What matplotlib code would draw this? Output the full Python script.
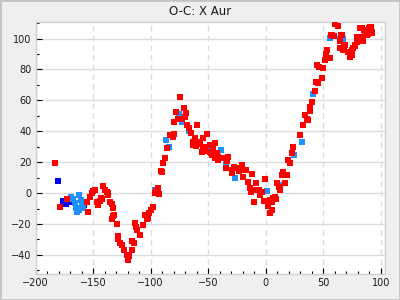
import matplotlib
matplotlib.use("Agg")
import matplotlib.pyplot as plt
from matplotlib.ticker import MultipleLocator
from matplotlib.patches import Rectangle

title = "O-C: X Aur"

red_x = [-183.2, -178.9, -172.5, -155.7, -154.3, -152.8, -151.3, -149.9, -148.4, -147.0, -145.6, -144.0,
         -143.0, -142.7, -141.2, -140.0, -139.7, -138.3, -137.4, -137.0, -135.4, -134.0, -133.0, -132.5,
         -131.6, -134.0, -129.6, -128.2, -128.8, -126.7, -125.2, -123.0, -120.9, -120.0, -119.0, -116.0,
         -114.3, -116.0, -113.7, -112.5, -111.5, -109.3, -106.4, -105.0, -103.5, -102.0, -101.6, -99.7,
         -97.7, -96.3, -95.0, -93.4, -92.8, -91.0, -94.8, -90.4, -89.0, -87.6, -85.6, -82.9, -80.6, -79.7,
         -79.7, -78.0, -76.0, -74.5, -73.0, -71.0, -69.3, -70.0, -68.2, -66.4, -65.2, -59.5, -63.0, -61.6,
         -63.0, -61.0, -58.6, -57.0, -54.3, -50.8, -55.6, -54.0, -52.5, -48.4, -48.0, -44.0, -42.6, -46.0,
         -47.0, -44.0, -54.3, -52.5, -48.4, -44.0, -41.2, -41.2, -36.9, -32.5, -33.9, -34.5, -29.6, -29.6,
         -28.0, -25.2, -23.0, -20.9, -20.0, -17.5, -19.5, -15.2, -12.2, -13.7, -12.5, -9.3, -8.4, -5.8,
         -3.5, -4.9, -2.0, -10.2, -0.5, 3.7, 2.3, 5.0, 6.0, 3.7, 5.0, 9.6, 11.0, 12.5, 5.2, 7.0, 9.0,
         8.0, 11.0, 10.1, 12.4, 13.9, 15.3, 15.3, 16.8, 18.3, 19.6, 21.1, 22.6, 24.0, 29.8, 32.7, 34.2,
         35.5, 36.5, 38.5, 38.0, 40.0, 42.9, 43.7, 45.5, 48.7, 46.6, 44.8, 49.6, 51.6, 53.0, 52.5, 55.3,
         53.0, 57.4, 59.0, 60.3, 62.3, 56.5, 58.4, 66.1, 64.0, 65.2, 64.6, 67.0, 68.1, 69.0, 71.0, 73.3,
         73.3, 74.8, 75.0, 75.6, 77.6, 77.6, 79.1, 79.6, 81.4, 83.5, 85.0, 86.4, 89.2, 90.5, 92.2, 83.5,
         86.0, 88.0, 84.4, 84.8, 91.2, 92.2, 89.0]
red_y = [19.4, -9.0, -4.0, -5.5, -12.0, -2.3, 0.0, 1.6, 2.0, -5.5, -7.6, -5.0,
         -3.0, -3.8, 4.7, 2.0, 2.0, 1.0, 0.0, -1.0, -5.5, -7.0, -9.8, -14.8,
         -14.0, -17.0, -20.0, -28.0, -29.5, -32.0, -33.5, -36.8, -40.0, -43.2, -41.0, -36.8,
         -32.4, -31.0, -19.5, -22.0, -24.0, -27.0, -20.6, -14.0, -17.0, -16.0, -12.7, -10.9,
         -9.0, 0.0, 1.5, 3.2, -0.5, 14.0, 0.0, 13.9, 19.4, 22.6, 29.0, 37.7, 36.6, 38.1,
         46.3, 52.7, 47.8, 62.0, 47.8, 55.0, 52.0, 49.0, 44.0, 42.3, 39.2, 44.1, 33.3, 35.4,
         31.0, 30.5, 33.3, 32.0, 35.5, 38.3, 26.9, 30.0, 28.0, 31.2, 25.8, 32.7, 25.8, 28.5,
         24.5, 23.0, 29.0, 27.0, 26.9, 25.8, 23.6, 21.5, 22.6, 23.2, 21.0, 16.1, 15.0, 13.0,
         17.0, 16.1, 14.5, 18.2, 15.0, 15.0, 10.7, 7.4, 12.2, 3.2, 1.0, 2.1, 6.4, 2.1,
         1.0, -1.2, -5.0, -5.5, 9.0, -4.4, -8.3, -6.0, -3.0, -13.0, -11.0, 6.4, 4.0, 2.5, -5.5, -3.0, -4.0,
         -2.5, 4.2, 6.4, 2.1, 11.8, 13.9, 12.5, 6.4, 11.8, 21.5, 19.3, 25.8, 30.0, 37.7, 44.1, 50.6,
         48.0, 47.0, 53.2, 56.0, 58.8, 66.2, 72.2, 71.5, 74.8, 81.9, 83.0, 81.2, 86.2, 87.7, 90.0, 87.7,
         92.7, 102.4, 101.5, 109.5, 108.2, 102.4, 101.5, 102.4, 98.5, 102.0, 93.8, 92.7, 94.8, 96.0, 91.6, 88.3,
         91.6, 89.5, 92.5, 93.8, 95.5, 96.0, 98.0, 101.3, 106.7, 107.1, 105.5, 104.5, 106.7, 107.4, 104.1, 101.3,
         103.0, 102.5, 99.2, 98.7, 107.4, 103.5, 103.0]

lblue_x = [-169.6, -167.3, -165.8, -165.0, -163.8, -162.0, -160.9, -160.0, -162.0, -158.7, -96.3, -93.4,
           -86.7, -84.0, -75.6, -73.0, -66.4, -51.0, -39.1, -34.5, -26.7, 1.0, 12.0, 24.6, 31.3, 40.9,
           56.0, 66.7, 64.0, 67.0]
lblue_y = [-2.3, -4.0, -6.5, -9.8, -12.0, -1.2, -4.4, -7.0, -10.9, -9.9, 2.0, 1.0,
           34.4, 30.0, 51.0, 46.0, 40.0, 27.0, 28.0, 19.0, 9.6, 1.6, 5.0, 24.7, 33.3, 64.0,
           100.5, 99.0, 99.8, 99.8]

dblue_x = [-180.3, -176.0, -174.0, -172.0, -170.5, -157.6]
dblue_y = [8.1, -5.0, -7.0, -4.0, -6.0, -8.0]

fig = plt.figure(figsize=(4, 3), dpi=100, facecolor="#efefef")
fig.patches.append(Rectangle((0, 0), 1, 1, transform=fig.transFigure, fill=False,
                             edgecolor="#c4c4c4", linewidth=2.0))
ax = fig.add_axes([0.089, 0.087, 0.8735, 0.84])
ax.set_facecolor("white")

ms = 16
ax.scatter(dblue_x, dblue_y, s=ms, marker="s", color="#0000ff", linewidths=0, zorder=3)
ax.scatter(lblue_x, lblue_y, s=ms, marker="s", color="#1e90ff", linewidths=0, zorder=3)
ax.scatter(red_x, red_y, s=ms, marker="s", color="#ff0000", linewidths=0, zorder=4)

ax.set_xlim(-200, 103.5)
ax.set_ylim(-52.3, 110.8)
ax.xaxis.set_major_locator(MultipleLocator(50))
ax.xaxis.set_minor_locator(MultipleLocator(10))
ax.yaxis.set_major_locator(MultipleLocator(20))
ax.yaxis.set_minor_locator(MultipleLocator(10))

ax.grid(True, axis="y", which="major", color="#dcdcdc", linestyle="-", linewidth=1.0, zorder=0)
ax.grid(True, axis="x", which="major", color="#dcdcdc", linestyle=(0, (4, 3)), linewidth=1.0, zorder=0)
ax.set_axisbelow(True)

ax.tick_params(which="both", direction="in", top=False, right=False, colors="black",
               labelsize=7, labelcolor="#1a1a1a", pad=3)
ax.tick_params(which="major", length=4, width=0.8)
ax.tick_params(which="minor", length=2.5, width=0.8)

for sp in ax.spines.values():
    sp.set_color("#d0d0d0")
    sp.set_linewidth(1.0)

fig.text(0.5, 0.963, title, ha="center", va="center", fontsize=8.5, color="#1a1a1a")

fig.savefig("out.png", dpi=100, facecolor=fig.get_facecolor())
